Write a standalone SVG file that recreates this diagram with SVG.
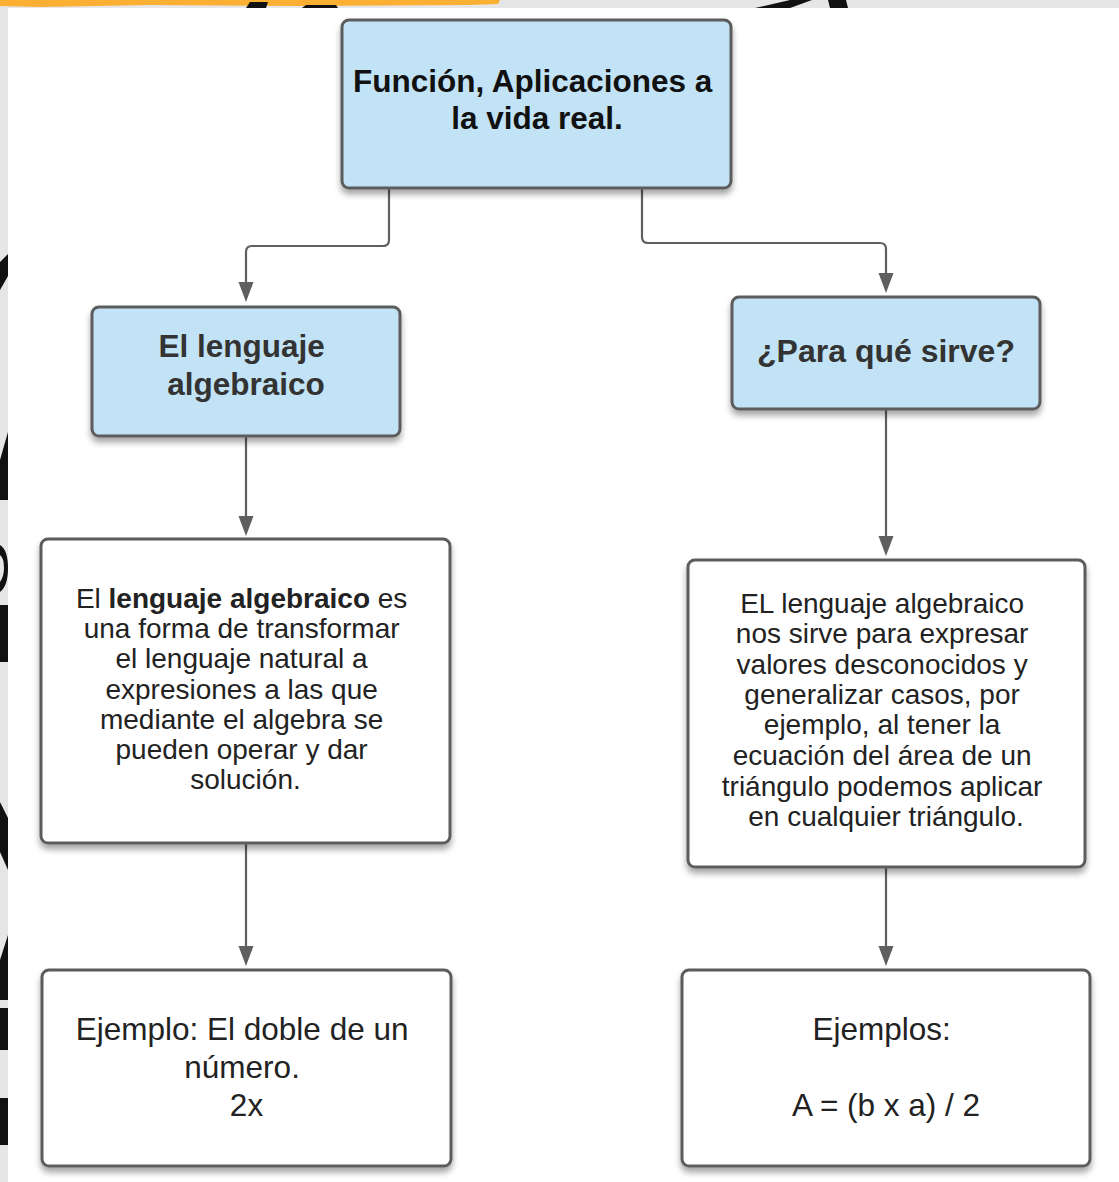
<svg xmlns="http://www.w3.org/2000/svg" width="1119" height="1182" viewBox="0 0 1119 1182">
  <style>
    .box { stroke: #5c5c5c; stroke-width: 3; }
    .head { fill: #c2e3f5; }
    .body { fill: #ffffff; }
    .title { font-family: "Liberation Sans", Arial, sans-serif; font-weight: bold; text-anchor: middle; }
    .txt { font-family: "Liberation Sans", Arial, sans-serif; font-size: 28px; fill: #222; text-anchor: middle; }
    .big { font-family: "Liberation Sans", Arial, sans-serif; font-size: 31.5px; fill: #222; text-anchor: middle; }
    .link { fill: none; stroke: #5f5f5f; stroke-width: 2.2; marker-end: url(#arrow); }
    .ink { fill: #111; }
  </style>
  <defs>
    <filter id="shadow" x="-10%" y="-10%" width="120%" height="130%">
      <feDropShadow dx="0" dy="5" stdDeviation="3" flood-color="#000" flood-opacity="0.35"/>
    </filter>
    <marker id="arrow" markerUnits="userSpaceOnUse" markerWidth="20" markerHeight="16" refX="14" refY="7.5" orient="auto">
      <path d="M0,0 L20,7.5 L0,15 z" fill="#5f5f5f"/>
    </marker>
  </defs>

  <!-- backdrop: grey paper with lettering fragments peeking out -->
  <rect x="0" y="0" width="1119" height="1182" fill="#e6e6e6"/>
  <path d="M0,0 H500 L498,4 L470,5 L300,6 L150,5 L40,7 L0,6 z" fill="#fbb034"/>
  <path class="ink" d="M246,8 L250,2 L268,2 L266,8 z"/>
  <path class="ink" d="M302,8 L306,5 L336,5 L338,8 z"/>
  <path class="ink" d="M755,8 L790,0 L812,0 L790,8 z"/>
  <path class="ink" d="M828,0 L846,0 L848,8 L830,8 z"/>
  <path class="ink" d="M0,262 L8,254 L8,276 L0,290 z"/>
  <path class="ink" d="M8,432 L8,500 L0,500 L0,460 z"/>
  <path class="ink" d="M0,545 Q8,550 8,568 Q8,586 0,592 L0,582 Q4,576 4,568 Q4,558 0,555 z"/>
  <path class="ink" d="M0,605 H8 V662 H0 z"/>
  <path class="ink" d="M0,802 L8,818 L8,870 L0,852 z"/>
  <path class="ink" d="M8,935 L8,1000 L0,1000 L0,960 z"/>
  <path class="ink" d="M0,1008 H8 V1050 H0 z"/>
  <path class="ink" d="M0,1098 H8 V1145 H0 z"/>

  <!-- sheet -->
  <rect x="8" y="8" width="1111" height="1174" fill="#ffffff"/>

  <g id="connectors">
    <path class="link" d="M389,189 V240 Q389,246 383,246 H252 Q246,246 246,252 V296"/>
    <path class="link" d="M642,189 V237 Q642,243 648,243 H880 Q886,243 886,249 V287"/>
    <path class="link" d="M246,437 V530"/>
    <path class="link" d="M886,410 V550"/>
    <path class="link" d="M246,844 V960"/>
    <path class="link" d="M886,868 V960"/>
  </g>

  <g id="node-funcion">
    <rect class="box head" x="342" y="20" width="389" height="168" rx="7" filter="url(#shadow)"/>
    <text class="title" font-size="31.5" fill="#111">
      <tspan x="537" y="92">Función, Aplicaciones a</tspan>
      <tspan x="537" y="129">la vida real.</tspan>
    </text>
  </g>

  <g id="node-lenguaje">
    <rect class="box head" x="92" y="307" width="308" height="129" rx="7" filter="url(#shadow)"/>
    <text class="title" font-size="31.5" fill="#333">
      <tspan x="246" y="357">El lenguaje</tspan>
      <tspan x="246" y="395">algebraico</tspan>
    </text>
  </g>

  <g id="node-para-que">
    <rect class="box head" x="732" y="297" width="308" height="112" rx="7" filter="url(#shadow)"/>
    <text class="title" font-size="32" fill="#333" x="886" y="362">¿Para qué sirve?</text>
  </g>

  <g id="node-definicion">
    <rect class="box body" x="41" y="539" width="409" height="304" rx="7" filter="url(#shadow)"/>
    <text class="txt">
      <tspan x="245.5" y="608">El <tspan font-weight="bold">lenguaje algebraico</tspan> es</tspan>
      <tspan x="245.5" y="638">una forma de transformar</tspan>
      <tspan x="245.5" y="668">el lenguaje natural a</tspan>
      <tspan x="245.5" y="699">expresiones a las que</tspan>
      <tspan x="245.5" y="729">mediante el algebra se</tspan>
      <tspan x="245.5" y="759">pueden operar y dar</tspan>
      <tspan x="245.5" y="789">solución.</tspan>
    </text>
  </g>

  <g id="node-uso">
    <rect class="box body" x="688" y="560" width="397" height="307" rx="7" filter="url(#shadow)"/>
    <text class="txt">
      <tspan x="886" y="613">EL lenguaje algebraico</tspan>
      <tspan x="886" y="643">nos sirve para expresar</tspan>
      <tspan x="886" y="674">valores desconocidos y</tspan>
      <tspan x="886" y="704">generalizar casos, por</tspan>
      <tspan x="886" y="734">ejemplo, al tener la</tspan>
      <tspan x="886" y="765">ecuación del área de un</tspan>
      <tspan x="886" y="796">triángulo podemos aplicar</tspan>
      <tspan x="886" y="826">en cualquier triángulo.</tspan>
    </text>
  </g>

  <g id="node-ejemplo">
    <rect class="box body" x="42" y="970" width="409" height="196" rx="7" filter="url(#shadow)"/>
    <text class="big">
      <tspan x="246.5" y="1040">Ejemplo: El doble de un</tspan>
      <tspan x="246.5" y="1078">número.</tspan>
      <tspan x="246.5" y="1116">2x</tspan>
    </text>
  </g>

  <g id="node-ejemplos">
    <rect class="box body" x="682" y="970" width="408" height="196" rx="7" filter="url(#shadow)"/>
    <text class="big">
      <tspan x="886" y="1040">Ejemplos:</tspan>
      <tspan x="886" y="1116">A = (b x a) / 2</tspan>
    </text>
  </g>
</svg>
